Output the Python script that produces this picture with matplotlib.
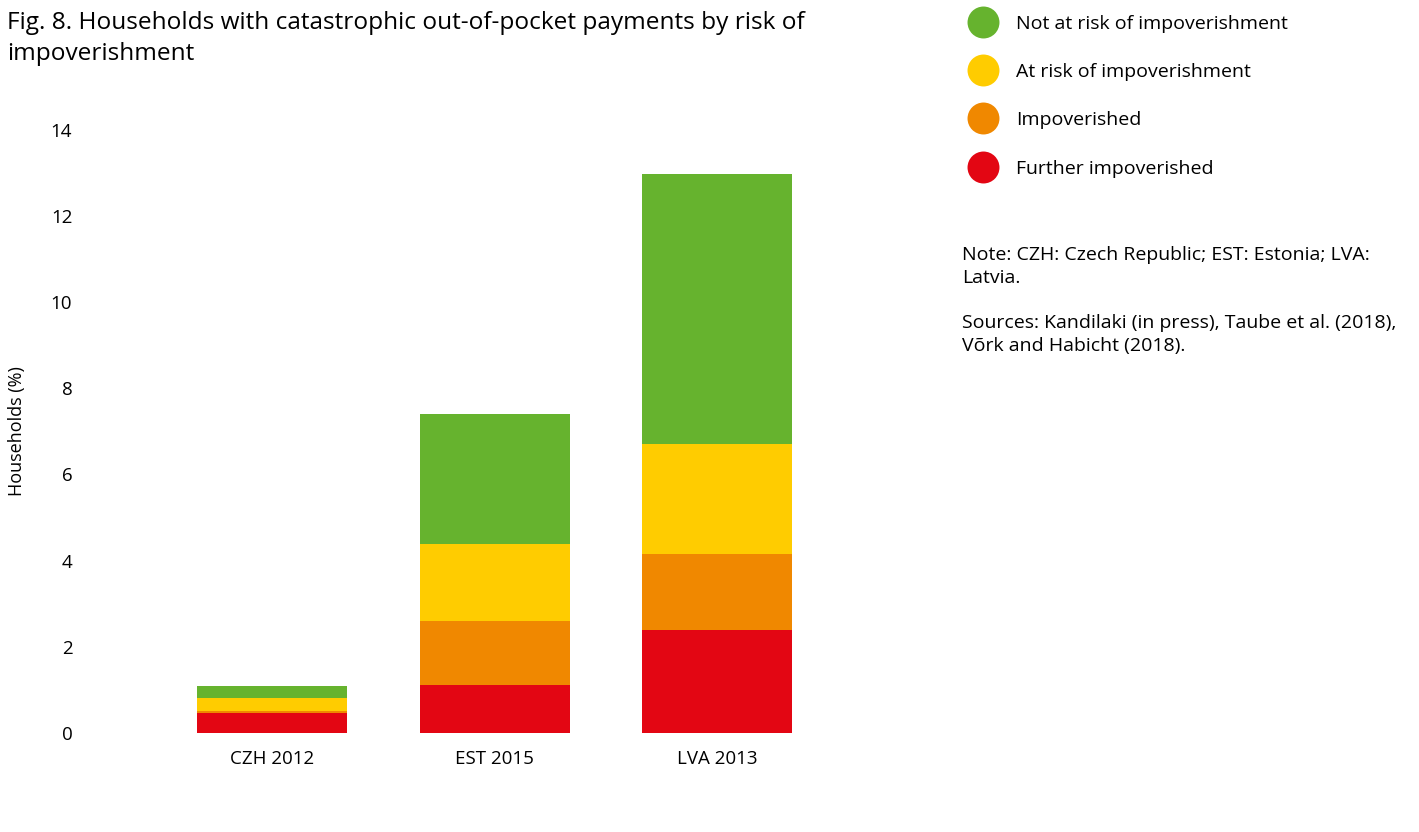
import matplotlib.pyplot as plt
from matplotlib.lines import Line2D

plt.rcParams['font.family'] = ['Open Sans', 'DejaVu Sans']

countries = ['CZH 2012', 'EST 2015', 'LVA 2013']
further_impov = [0.47, 1.11, 2.38]
impoverished = [0.05, 1.49, 1.78]
at_risk = [0.30, 1.79, 2.55]
not_at_risk = [0.27, 3.01, 6.27]

series = [
    ('Further impoverished', further_impov, '#e30613'),
    ('Impoverished', impoverished, '#f08800'),
    ('At risk of impoverishment', at_risk, '#ffcc00'),
    ('Not at risk of impoverishment', not_at_risk, '#66b32e'),
]

fig = plt.figure(figsize=(14.19, 8.32), dpi=100)
ax = fig.add_axes([0.0705, 0.119, 0.529, 0.725])

x = range(len(countries))
bottom = [0, 0, 0]
for name, vals, col in series:
    ax.bar(x, vals, 0.675, bottom=bottom, color=col, label=name)
    bottom = [b + v for b, v in zip(bottom, vals)]

ax.set_xlim(-0.775, 2.6)
ax.set_ylim(0, 14)
ax.set_yticks(range(0, 15, 2))
ax.set_xticks(list(x))
ax.set_xticklabels(countries)
ax.tick_params(length=0, labelsize=13.5, pad=12)
ax.tick_params(axis='y', pad=20)
for s in ax.spines.values():
    s.set_visible(False)
ax.set_ylabel('Households (%)', fontsize=13)
ax.yaxis.set_label_coords(-0.099, 0.5)

fig.text(0.005, 0.987, 'Fig. 8. Households with catastrophic out-of-pocket payments by risk of\nimpoverishment',
         fontsize=17.6, va='top', ha='left', linespacing=1.38)

handles = [Line2D([], [], ls='none', marker='o', ms=23, mec='none', mfc=col, label=name)
           for name, vals, col in series[::-1]]
fig.legend(handles=handles, loc='upper left', bbox_to_anchor=(0.6685, 1.0), frameon=False,
           fontsize=14, labelspacing=1.56, handletextpad=0.7, borderaxespad=0.35)

fig.text(0.678, 0.704, 'Note: CZH: Czech Republic; EST: Estonia; LVA:\nLatvia.', fontsize=14,
         va='top', ha='left', linespacing=1.32)
fig.text(0.678, 0.622, 'Sources: Kandilaki (in press), Taube et al. (2018),\nVõrk and Habicht (2018).', fontsize=14,
         va='top', ha='left', linespacing=1.32)

fig.savefig('out.png', dpi=100)
